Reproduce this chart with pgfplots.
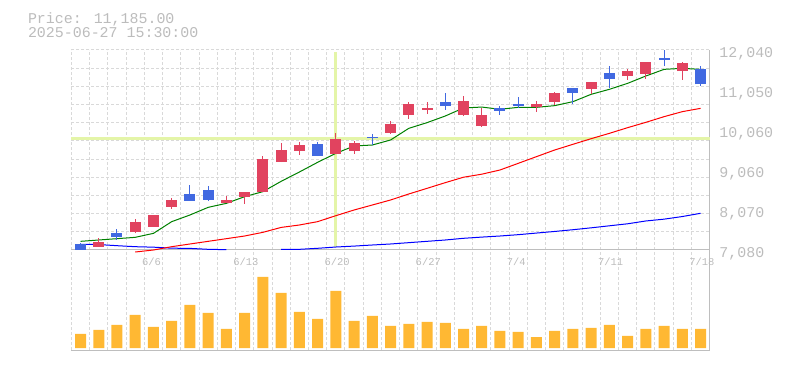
\documentclass[border=0pt]{standalone}
\usepackage{fontspec}
\setmainfont{Liberation Mono}
\usepackage{pgfplots}
\pgfplotsset{compat=1.18}
\usepackage{pgfplotstable}

\definecolor{cred}{RGB}{225,67,95}
\definecolor{cblue}{RGB}{65,105,225}
\definecolor{vol}{RGB}{255,184,51}
\definecolor{gridgray}{RGB}{217,217,217}
\definecolor{axgray}{RGB}{190,190,190}
\definecolor{tgray}{RGB}{188,188,188}
\definecolor{cross}{RGB}{228,245,168}
\definecolor{magreen}{RGB}{0,128,0}
\definecolor{mared}{RGB}{255,0,0}
\definecolor{mablue}{RGB}{0,0,255}

% red (rising) candles: index, open, high, low, close
\pgfplotstableread{
x o h l c
1 7162 7377 7160 7287
3 7518 7850 7495 7783
4 7660 7960 7655 7956
5 8155 8370 8105 8320
8 8246 8427 8240 8320
9 8403 8520 8221 8518
10 8518 9420 8515 9337
11 9271 9742 9260 9560
12 9535 9767 9436 9684
14 9469 9982 9465 9833
15 9535 9783 9469 9734
17 9982 10279 9957 10205
18 10428 10750 10329 10701
19 10552 10750 10453 10602
21 10428 10899 10403 10775
22 10155 10610 10139 10428
25 10626 10775 10511 10701
26 10742 11007 10676 10974
28 11073 11250 10949 11246
30 11395 11569 11296 11519
31 11445 11745 11321 11743
33 11519 11743 11296 11718
}\redc

% blue (falling) candles
\pgfplotstableread{
x o h l c
0 7230 7262 7080 7085
2 7510 7600 7330 7411
6 8469 8692 8300 8303
7 8568 8675 8295 8328
13 9709 9758 9405 9411
16 9885 9949 9676 9862
20 10750 10974 10552 10651
23 10602 10651 10436 10535
24 10701 10874 10610 10660
27 11098 11100 10693 10974
29 11470 11643 11098 11321
32 11835 12040 11643 11800
34 11569 11643 11147 11185
}\bluec

\pgfplotsset{
  chartbase/.style={
    scale only axis,
    width=638.3bp,
    xmin=-0.5, xmax=34.5,
    axis x line*=bottom,
    axis y line*=right,
    axis line style={draw=axgray, line width=1bp},
    major tick length=0pt,
    minor tick length=0pt,
    xtick={4,9,14,19,24,29,34},
    minor xtick={-0.5,0.5,...,33.5},
    xminorgrids=true,
    xmajorgrids=false,
    scaled y ticks=false,
    minor grid style={draw=gridgray, line width=1bp, dash pattern=on 3bp off 2bp},
    grid style={draw=gridgray, line width=1bp, dash pattern=on 3bp off 2bp},
  }
}

\begin{document}
\begin{tikzpicture}
\path[use as bounding box] (0,0) rectangle (785bp,370bp);

\node[anchor=base west, inner sep=0pt, text=tgray, font=\fontsize{15}{15}\selectfont] at (27.8bp,346.3bp) {Price: 11,185.00};
\node[anchor=base west, inner sep=0pt, text=tgray, font=\fontsize{15}{15}\selectfont] at (27.8bp,332.3bp) {2025-06-27 15:30:00};

% volume panel
\begin{axis}[chartbase,
  at={(71.4bp,20bp)}, anchor=south west,
  height=100bp,
  ymin=-6, ymax=294,
  ytick=\empty,
  xticklabels={},
]
\addplot[ybar, bar width=11bp, bar shift=0pt, fill=vol, draw=none] coordinates {
(0,42) (1,54) (2,69) (3,99) (4,63) (5,81) (6,129) (7,105) (8,57) (9,105)
(10,213) (11,165) (12,108) (13,87) (14,171) (15,81) (16,96) (17,66) (18,72) (19,78)
(20,75) (21,57) (22,66) (23,51) (24,48) (25,33) (26,51) (27,57) (28,60) (29,69)
(30,36) (31,57) (32,66) (33,57) (34,57)
};
\end{axis}

% price panel
\begin{axis}[chartbase,
  at={(71.4bp,120bp)}, anchor=south west,
  height=200bp,
  ymin=7080, ymax=12040,
  clip=false,
  ytick={7080,8070,9060,10060,11050,12040},
  yticklabels={{7,080},{8,070},{9,060},{10,060},{11,050},{12,040}},
  minor ytick={7530.9,7981.8,8432.7,8883.6,9334.5,9785.5,10236.4,10687.3,11138.2,11589.1,12040},
  yminorgrids=true,
  ymajorgrids=false,
  yticklabel style={anchor=base west, inner sep=0pt, xshift=9.5bp, yshift=-7.3bp, text=tgray, font=\fontsize{15}{15}\selectfont},
  xticklabels={6/6,6/13,6/20,6/27,7/4,7/11,7/18},
  xticklabel style={anchor=base west, inner sep=0pt, xshift=-11.5bp, yshift=-15.7bp, text=tgray, font=\fontsize{10.5}{10.5}\selectfont},
]
% crosshair
\addplot[draw=cross, line width=3bp] coordinates {(-0.5,9833) (34.5,9833)};
\addplot[draw=cross, line width=3bp] coordinates {(14,7162) (14,11998)};

% moving averages
\addplot[draw=mablue, line width=1bp, restrict y to domain=7079:20000, unbounded coords=jump] coordinates {
(0,7220) (1,7215) (2,7187) (3,7162) (4,7150) (5,7125) (6,7120) (7,7097) (8,7088) (9,7070)
(10,7072) (11,7095) (12,7097) (13,7122) (14,7154) (15,7177) (16,7204) (17,7229) (18,7262) (19,7295)
(20,7328) (21,7370) (22,7400) (23,7427) (24,7460) (25,7500) (26,7540) (27,7583) (28,7630) (29,7680)
(30,7730) (31,7800) (32,7845) (33,7910) (34,7990)
};
\addplot[draw=mared, line width=1bp] coordinates {
(3,7030) (4,7080) (5,7162) (6,7229) (7,7295) (8,7361) (9,7427) (10,7518) (11,7640) (12,7700)
(13,7783) (14,7931) (15,8072) (16,8196) (17,8320) (18,8469) (19,8609) (20,8750) (21,8885) (22,8960)
(23,9064) (24,9229) (25,9395) (26,9560) (27,9701) (28,9841) (29,9973) (30,10114) (31,10246) (32,10387)
(33,10511) (34,10593)
};
\addplot[draw=magreen, line width=1bp] coordinates {
(0,7295) (1,7328) (2,7361) (3,7394) (4,7493) (5,7783) (6,7948) (7,8138) (8,8237) (9,8403)
(10,8527) (11,8783) (12,9014) (13,9254) (14,9477) (15,9659) (16,9684) (17,9808) (18,10097) (19,10238)
(20,10403) (21,10602) (22,10625) (23,10569) (24,10618) (25,10618) (26,10660) (27,10759) (28,10941) (29,11065)
(30,11213) (31,11395) (32,11560) (33,11585) (34,11560)
};

% wicks
\addplot[draw=none, error bars/.cd, y dir=plus, y explicit, error mark=none,
  error bar style={draw=cred, line width=1bp}]
  table[x=x, y=l, y error expr={\thisrow{h}-\thisrow{l}}] {\redc};
\addplot[draw=none, error bars/.cd, y dir=plus, y explicit, error mark=none,
  error bar style={draw=cblue, line width=1bp}]
  table[x=x, y=l, y error expr={\thisrow{h}-\thisrow{l}}] {\bluec};
% bodies
\addplot[draw=none, error bars/.cd, y dir=plus, y explicit, error mark=none,
  error bar style={draw=cred, line width=11bp}]
  table[x=x, y=o, y error expr={\thisrow{c}-\thisrow{o}}] {\redc};
\addplot[draw=none, error bars/.cd, y dir=plus, y explicit, error mark=none,
  error bar style={draw=cblue, line width=11bp}]
  table[x=x, y=c, y error expr={\thisrow{o}-\thisrow{c}}] {\bluec};
\end{axis}
\end{tikzpicture}
\end{document}
